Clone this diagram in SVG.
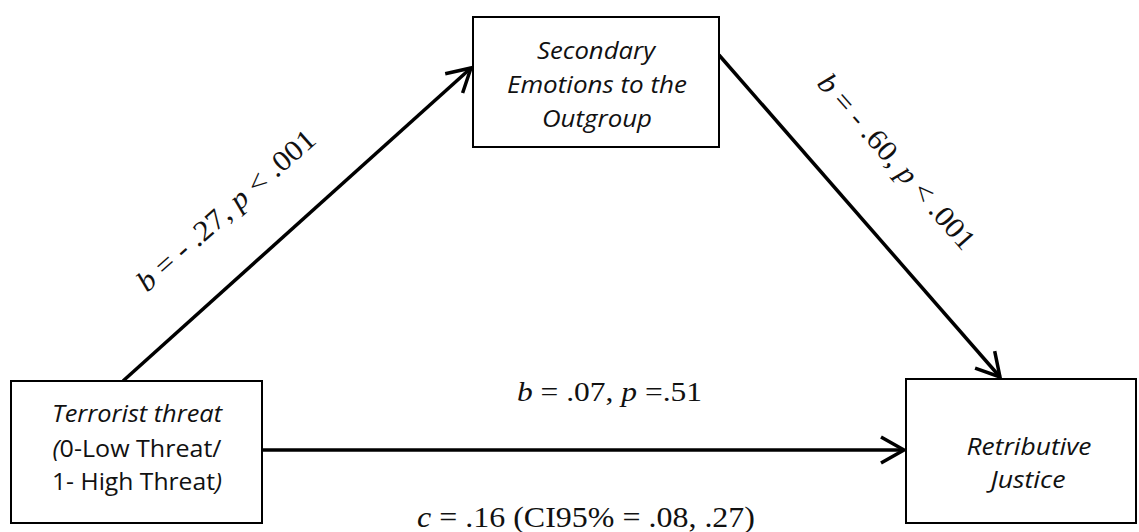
<svg xmlns="http://www.w3.org/2000/svg" width="1139" height="532" viewBox="0 0 1139 532">
<style>
.box{fill:#fff;stroke:#000;stroke-width:2}
.nt{font-family:"Open Sans","Liberation Sans",sans-serif;font-size:24.5px;fill:#111;text-anchor:middle}
.it{font-style:italic}
.lab{font-family:"Liberation Serif",serif;fill:#111}
.edge{stroke:#000;stroke-width:3.5;fill:none}
</style>
<defs>
<marker id="arr" markerWidth="30" markerHeight="30" refX="23" refY="13" orient="auto" markerUnits="userSpaceOnUse" viewBox="0 0 30 30" overflow="visible">
<path d="M0,0 L23,13 L0,26" fill="none" stroke="#000" stroke-width="3.5" stroke-linejoin="miter"/>
</marker>
</defs>
<rect width="1139" height="532" fill="#fff"/>
<g id="connectors">
<line class="edge" x1="123" y1="381" x2="471" y2="68" marker-end="url(#arr)"/>
<line class="edge" x1="719" y1="55" x2="1000" y2="377" marker-end="url(#arr)"/>
<line class="edge" x1="262" y1="450" x2="904" y2="450" marker-end="url(#arr)"/>
</g>
<g id="node-threat">
<rect class="box" x="11" y="381" width="251" height="142"/>
<text class="nt" x="137" y="422" textLength="170" lengthAdjust="spacingAndGlyphs"><tspan class="it">Terrorist threat</tspan></text>
<text class="nt" x="137" y="457" textLength="169" lengthAdjust="spacingAndGlyphs"><tspan class="it">(</tspan>0-Low Threat/</text>
<text class="nt" x="137" y="490" textLength="170" lengthAdjust="spacingAndGlyphs">1- High Threat<tspan class="it">)</tspan></text>
</g>
<g id="node-emotions">
<rect class="box" x="473" y="17" width="246" height="130"/>
<text class="nt it" x="596" y="59" textLength="118" lengthAdjust="spacingAndGlyphs">Secondary</text>
<text class="nt it" x="597" y="93" textLength="180" lengthAdjust="spacingAndGlyphs">Emotions to the</text>
<text class="nt it" x="597" y="127" textLength="110" lengthAdjust="spacingAndGlyphs">Outgroup</text>
</g>
<g id="node-justice">
<rect class="box" x="906" y="379" width="230" height="144"/>
<text class="nt it" x="1029" y="455" textLength="125" lengthAdjust="spacingAndGlyphs">Retributive</text>
<text class="nt it" x="1028" y="488" textLength="75" lengthAdjust="spacingAndGlyphs">Justice</text>
</g>
<g id="labels">
<text class="lab" font-size="29" transform="translate(147,293) rotate(-41.5)" textLength="228" lengthAdjust="spacingAndGlyphs"><tspan font-style="italic">b</tspan> = - .27, <tspan font-style="italic">p</tspan> &lt; .001</text>
<text class="lab" font-size="29" transform="translate(816,84) rotate(48.8)" textLength="223" lengthAdjust="spacingAndGlyphs"><tspan font-style="italic">b</tspan> = - .60, <tspan font-style="italic">p</tspan> &lt; .001</text>
<text class="lab" font-size="27" x="517" y="401" textLength="185" lengthAdjust="spacingAndGlyphs"><tspan font-style="italic">b</tspan> = .07, <tspan font-style="italic">p</tspan> =.51</text>
<text class="lab" font-size="30" x="417" y="527" textLength="338" lengthAdjust="spacingAndGlyphs"><tspan font-style="italic">c</tspan> = .16 (CI95% = .08, .27)</text>
</g>
</svg>
